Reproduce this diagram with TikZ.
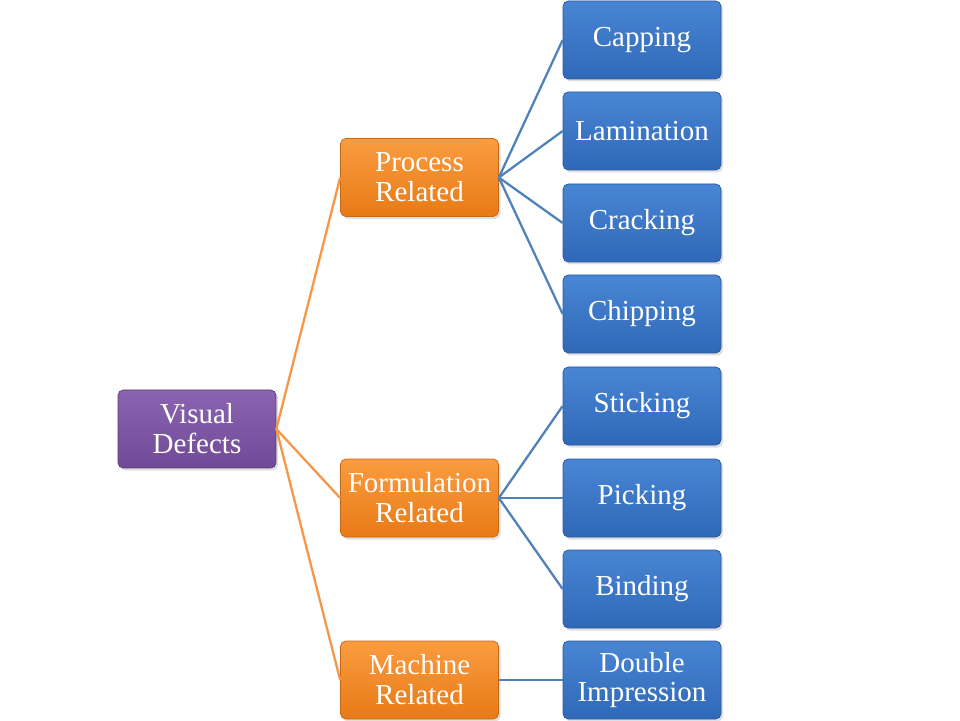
\documentclass[tikz,border=0pt]{standalone}
\usepackage{fontspec}
\setmainfont{Liberation Serif}
\usepackage{tikz}
\usetikzlibrary{positioning, shadows}
\definecolor{defpurple}{RGB}{112,74,150}
\definecolor{defpurpletop}{RGB}{138,100,176}
\definecolor{deforange}{RGB}{232,122,22}
\definecolor{deforangetop}{RGB}{250,156,64}
\definecolor{defblue}{RGB}{48,104,184}
\definecolor{defbluetop}{RGB}{72,134,212}
\definecolor{orangeline}{RGB}{247,150,70}
\definecolor{blueline}{RGB}{79,129,189}

\begin{document}
\begin{tikzpicture}[
  box/.style={rectangle, rounded corners=3pt, minimum width=3.16cm,
    minimum height=1.56cm, align=center, text=white,
    font=\fontsize{16.5}{17}\selectfont, inner sep=1pt,
    drop shadow={opacity=0.25, shadow xshift=0.04cm, shadow yshift=-0.05cm}},
  rootbox/.style={box, top color=defpurpletop, bottom color=defpurple, draw=defpurple!80!black},
  midbox/.style={box, top color=deforangetop, bottom color=deforange, draw=deforange!85!black},
  leafbox/.style={box, top color=defbluetop, bottom color=defblue, draw=defblue!85!black},
  oln/.style={orangeline, line width=1.3pt},
  bln/.style={blueline, line width=1.3pt}
]
  \useasboundingbox (0,0) rectangle (19.2,14.4);
  % root and groups
  \node[rootbox] (vis) at (3.94,5.82)  {Visual\\Defects};
  \node[midbox]  (proc) at (8.39,10.85) {Process\\Related};
  \node[midbox]  (form) at (8.39,4.44)  {Formulation\\Related};
  \node[midbox]  (mach) at (8.39,0.80)  {Machine\\Related};
  % defects
  \node[leafbox] (cap) at (12.84,13.60) {Capping};
  \node[leafbox] (lam) at (12.84,11.78) {Lamination};
  \node[leafbox] (cra) at (12.84,9.94)  {Cracking};
  \node[leafbox] (chi) at (12.84,8.12)  {Chipping};
  \node[leafbox] (sti) at (12.84,6.28)  {Sticking};
  \node[leafbox] (pic) at (12.84,4.44)  {Picking};
  \node[leafbox] (bin) at (12.84,2.62)  {Binding};
  \node[leafbox] (dbl) at (12.84,0.80)  {Double\\Impression};
  % links
  \foreach \g in {proc,form,mach}
    \draw[oln] (vis.east) -- (\g.west);
  \foreach \d in {cap,lam,cra,chi}
    \draw[bln] (proc.east) -- (\d.west);
  \foreach \d in {sti,pic,bin}
    \draw[bln] (form.east) -- (\d.west);
  \draw[bln] (mach.east) -- (dbl.west);
\end{tikzpicture}
\end{document}
